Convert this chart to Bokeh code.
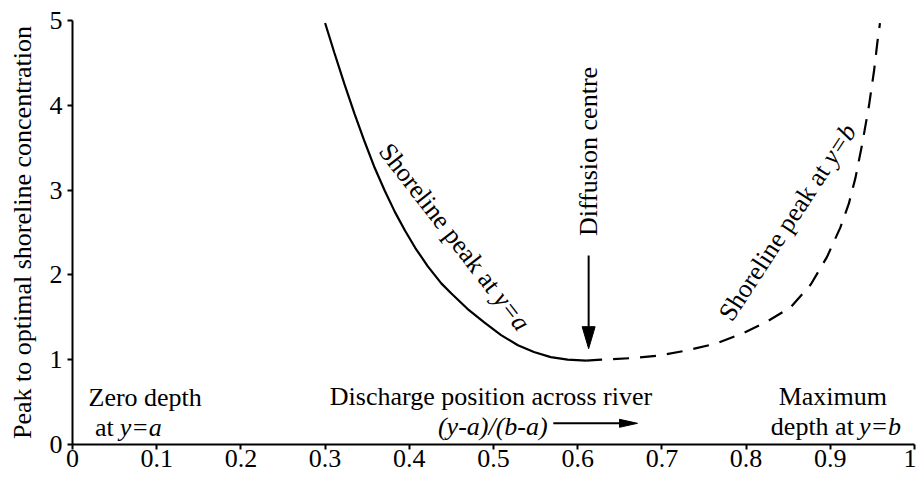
import math
from bokeh.plotting import figure
from bokeh.models import Range1d, FixedTicker
from bokeh.core.properties import value
from bokeh.embed import file_html
from bokeh.resources import INLINE

# ---- data ----
x_peak_a = [0.300, 0.311, 0.323, 0.335, 0.347, 0.359, 0.371, 0.383, 0.395, 0.407,
            0.422, 0.438, 0.450, 0.469, 0.489, 0.509, 0.529, 0.548, 0.568, 0.588, 0.610]
y_peak_a = [4.97, 4.62, 4.25, 3.90, 3.57, 3.26, 2.99, 2.74, 2.52, 2.32,
            2.10, 1.90, 1.78, 1.60, 1.44, 1.29, 1.17, 1.09, 1.03, 1.00, 0.99]

x_peak_b = [0.610, 0.628, 0.667, 0.697, 0.730, 0.764, 0.796, 0.825, 0.853, 0.877,
            0.896, 0.912, 0.922, 0.930, 0.938, 0.946, 0.952, 0.956, 0.959]
y_peak_b = [0.99, 1.00, 1.02, 1.05, 1.11, 1.19, 1.31, 1.45, 1.62, 1.89,
            2.21, 2.56, 2.84, 3.15, 3.55, 4.00, 4.41, 4.75, 4.97]

x_ticks = [0.0, 0.1, 0.2, 0.3, 0.4, 0.5, 0.6, 0.7, 0.8, 0.9, 1.0]
x_tick_labels = ["0", "0.1", "0.2", "0.3", "0.4", "0.5", "0.6", "0.7", "0.8", "0.9", "1"]
y_ticks = [0, 1, 2, 3, 4, 5]
y_tick_labels = ["0", "1", "2", "3", "4", "5"]

y_label = "Peak to optimal shoreline concentration"

FONT = "Liberation Serif"
FS = "26px"

p = figure(width=916, height=477, x_range=Range1d(0, 1), y_range=Range1d(0, 5),
           output_backend="svg", toolbar_location=None,
           min_border_left=72, min_border_right=2, min_border_top=20, min_border_bottom=33)
p.grid.visible = False
p.outline_line_color = None
p.background_fill_color = "white"
p.border_fill_color = "white"

for ax in (p.xaxis[0], p.yaxis[0]):
    ax.axis_line_width = 2
    ax.axis_line_color = "black"
    ax.major_tick_line_width = 2
    ax.major_tick_line_color = "black"
    ax.major_tick_in = 0
    ax.major_tick_out = 5
    ax.minor_tick_line_color = None
    ax.major_label_text_font = FONT
    ax.major_label_text_font_size = "26px"
    ax.major_label_text_color = "black"

p.xaxis.ticker = FixedTicker(ticks=x_ticks)
p.xaxis.major_label_overrides = {t: l for t, l in zip(x_ticks, x_tick_labels)}
p.xaxis.major_label_standoff = 0
p.yaxis.ticker = FixedTicker(ticks=y_ticks)
p.yaxis.major_label_overrides = {t: l for t, l in zip(y_ticks, y_tick_labels)}
p.yaxis.major_label_standoff = 5
p.yaxis.axis_label = y_label
p.yaxis.axis_label_text_font = FONT
p.yaxis.axis_label_text_font_size = FS
p.yaxis.axis_label_text_font_style = "normal"
p.yaxis.axis_label_text_color = "black"
p.yaxis.axis_label_standoff = 10

# curves
p.line(x_peak_a, y_peak_a, line_color="black", line_width=2.2)
p.line(x_peak_b, y_peak_b, line_color="black", line_width=2.2, line_dash="16 11")

def txt(x, y, s, align="left", baseline="alphabetic", angle=0.0, style="normal"):
    p.text(x=[x], y=[y], text=[s], text_font=value(FONT), text_font_size=value(FS),
           text_font_style=style, text_align=align, text_baseline=baseline,
           angle=angle, text_color="black")

# bottom annotations
txt(0.019, 0.56, "Zero depth")
txt(0.049, 0.20, "at", align="right")
txt(0.056, 0.20, "y=a", style="italic")
txt(0.497, 0.57, "Discharge position across river", align="center")
txt(0.434, 0.21, "(y-a)/(b-a)", style="italic")
txt(0.903, 0.57, "Maximum", align="center")
txt(0.928, 0.21, "depth at", align="right")
txt(0.934, 0.21, "y=b", style="italic")

# horizontal arrow
PX_X, PX_Y = 843.0, 84.8          # pixels per data unit
ah_x0, ah_x1, ah_y = 0.571, 0.671, 0.25
hl, hw = 18 / PX_X, 8 / PX_Y
p.line([ah_x0, ah_x1 - hl], [ah_y, ah_y], line_color="black", line_width=2)
p.patch([ah_x1, ah_x1 - hl, ah_x1 - hl], [ah_y, ah_y + hw / 2, ah_y - hw / 2], color="black")

# diffusion centre
dc_x = 0.613
txt(dc_x, 3.455, "Diffusion centre", align="center", baseline="middle", angle=math.pi / 2)
va_top, va_tip = 2.23, 1.13
vl, vw = 22 / PX_Y, 13 / PX_X
p.line([dc_x, dc_x], [va_top, va_tip + vl], line_color="black", line_width=2)
p.patch([dc_x, dc_x - vw / 2, dc_x + vw / 2], [va_tip, va_tip + vl, va_tip + vl], color="black")

# curve labels (mixed upright / italic pieces joined at a common anchor)
ang_a = -math.radians(52.2)
txt(0.5065, 1.77, "Shoreline peak at ", align="right", baseline="middle", angle=ang_a)
txt(0.5065, 1.77, "y=a", align="left", baseline="middle", angle=ang_a, style="italic")
ang_b = math.radians(56.8)
txt(0.8964, 3.335, "Shoreline peak at ", align="right", baseline="middle", angle=ang_b)
txt(0.8964, 3.335, "y=b", align="left", baseline="middle", angle=ang_b, style="italic")

open("out.html", "w").write(file_html(p, INLINE))
